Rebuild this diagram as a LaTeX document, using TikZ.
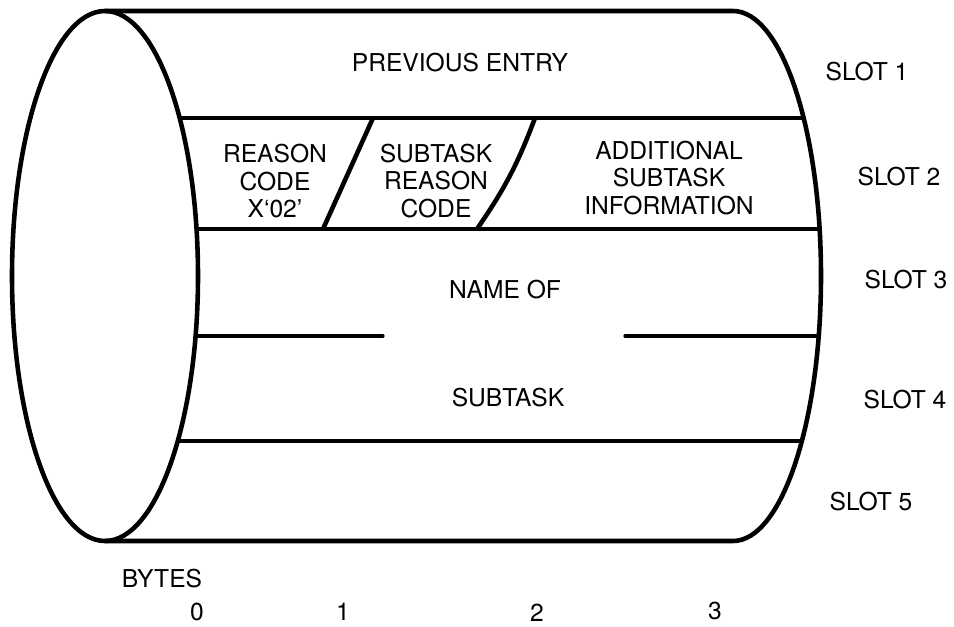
\documentclass[tikz,border=0pt]{standalone}
\usepackage{fontspec}
\setmainfont{TeX Gyre Heros}
\tikzset{
  rim/.style={line width=2.6pt},
  seam/.style={line width=1.9pt, line cap=round},
  field/.style={font=\fontsize{14}{15.6}\selectfont, align=center, inner sep=0pt}
}

\begin{document}
\begin{tikzpicture}
    \useasboundingbox (0, 0) rectangle (19.08, 12.52);
    % drum: end face and far rim
    \draw[rim] (2.10, 7.00) ellipse [x radius=1.86, y radius=5.30];
    \draw[rim] (2.10, 12.30) -- (14.66, 12.30) arc (90:-90:1.76 and 5.30) -- (2.10, 1.70);
    % slot boundaries
    \draw[seam] (3.59, 10.16) -- (16.07, 10.16);
    \draw[seam] (3.93, 7.94) -- (16.39, 7.94);
    \draw[seam] (3.91, 5.80) -- (7.66, 5.80);
    \draw[seam] (12.50, 5.80) -- (16.37, 5.80);
    \draw[seam] (3.55, 3.70) -- (16.04, 3.70);
    % fields of slot 2
    \draw[rim] (7.46, 10.16) -- (6.46, 7.94);
    \draw[rim] (10.70, 10.16) to[bend left=7] (9.54, 7.94);
    \node[field] (prev) at (9.20, 11.26) {PREVIOUS ENTRY};
    \node[field] (rcode) at (5.50, 8.90) {REASON\\CODE\\X`02'};
    \node[field] (srcode) at (8.72, 8.90) {SUBTASK\\REASON\\CODE};
    \node[field] (addinfo) at (13.38, 8.96) {ADDITIONAL\\SUBTASK\\INFORMATION};
    \node[field] (name) at (10.10, 6.72) {NAME OF};
    \node[field] (subtask) at (10.16, 4.56) {SUBTASK};
    % slot numbers
    \node[field] (slot1) at (17.34, 11.08) {SLOT 1};
    \node[field] (slot2) at (17.98, 8.98) {SLOT 2};
    \node[field] (slot3) at (18.12, 6.92) {SLOT 3};
    \node[field] (slot4) at (18.10, 4.52) {SLOT 4};
    \node[field] (slot5) at (17.42, 2.48) {SLOT 5};
    % byte scale
    \node[field] (bytes) at (3.24, 0.94) {BYTES};
    \node[field] (b0) at (3.94, 0.28) {0};
    \node[field] (b1) at (6.86, 0.28) {1};
    \node[field] (b2) at (10.74, 0.26) {2};
    \node[field] (b3) at (14.30, 0.30) {3};
\end{tikzpicture}
\end{document}
